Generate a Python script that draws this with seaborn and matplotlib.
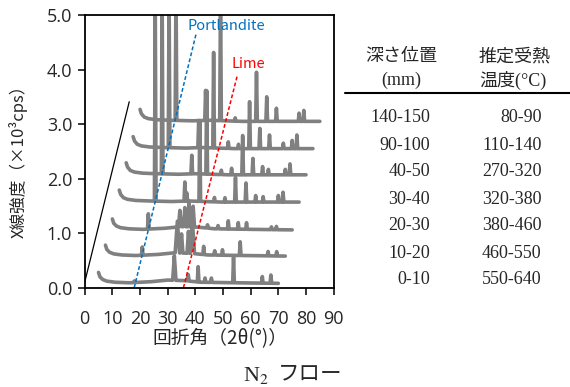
import matplotlib
matplotlib.use("Agg")
import matplotlib.pyplot as plt
import matplotlib.lines as mlines
import seaborn as sns
import numpy as np
import pandas as pd

# ── Data ──────────────────────────────────────────────────────────────────────
# samples listed bottom → top of the stack
DEPTHS = ["0-10", "10-20", "20-30", "30-40", "40-50", "90-100", "140-150"]
TEMPS = ["550-640", "460-550", "380-460", "320-380", "270-320", "110-140", "80-90"]

# waterfall offsets of each pattern
X_SHIFT = [0.0, 2.5, 5.0, 7.5, 10.0, 12.5, 15.0]
Y_SHIFT = [0.08, 0.58, 1.06, 1.57, 2.07, 2.55, 3.05]

# background (relative to baseline), measured in raw 2θ
BG_X = [5, 5.5, 6.5, 8, 11, 16, 24, 30, 36, 42, 55, 70]
BG_HIGH_Y = [0.22, 0.14, 0.08, 0.05, 0.03, 0.02, 0.01, 0.02, 0.01, 0.0, 0.0, 0.0]
BG_LOW_Y = [0.20, 0.12, 0.07, 0.04, 0.02, 0.01, 0.03, 0.06, 0.05, 0.02, 0.01, 0.0]

# peaks: (2θ, height, half width)
PK_0_10 = [(18.0, 0.03, 0.4), (32.4, 0.45, 0.6), (37.4, 0.12, 0.4), (41.0, 0.28, 0.3),
           (43.5, 0.08, 0.3), (45.8, 0.08, 0.3), (53.8, 0.47, 0.3), (64.2, 0.12, 0.3),
           (67.3, 0.15, 0.3)]
PK_10_20 = [(18.3, 0.15, 0.3), (31.0, 0.58, 0.8), (32.5, 0.35, 0.5), (35.0, 0.40, 0.5),
            (36.4, 0.60, 0.8), (40.5, 0.15, 0.3), (44.5, 0.08, 0.4), (47.3, 0.10, 0.3),
            (53.7, 0.25, 0.3), (63.8, 0.08, 0.3), (66.9, 0.08, 0.3)]
PK_20_30 = [(18.0, 0.28, 0.3), (29.4, 0.30, 0.5), (31.2, 0.35, 0.5), (32.7, 0.45, 0.5),
            (34.2, 0.38, 0.5), (39.4, 0.06, 0.4), (43.2, 0.06, 0.4), (46.9, 0.15, 0.3),
            (50.5, 0.12, 0.3), (53.5, 0.12, 0.3), (62.5, 0.05, 0.3), (64.3, 0.06, 0.3)]
PK_30_40 = [(18.0, 3.70, 0.3), (28.7, 0.35, 0.3), (29.4, 0.15, 0.3), (34.1, 1.47, 0.3),
            (39.4, 0.08, 0.3), (43.2, 0.08, 0.3), (47.0, 0.45, 0.3), (50.8, 0.35, 0.3),
            (54.3, 0.12, 0.3), (57.0, 0.10, 0.3), (62.5, 0.12, 0.3), (64.2, 0.18, 0.3)]
PK_40_50 = [(18.0, 3.20, 0.3), (28.7, 0.34, 0.3), (34.1, 1.53, 0.3), (39.4, 0.08, 0.3),
            (43.1, 0.12, 0.3), (47.1, 0.72, 0.3), (50.8, 0.30, 0.3), (54.3, 0.15, 0.3),
            (56.4, 0.10, 0.3), (62.5, 0.10, 0.3), (64.2, 0.20, 0.3)]
PK_90_100 = [(18.0, 2.80, 0.3), (28.7, 0.50, 0.3), (34.1, 1.75, 0.3), (39.4, 0.12, 0.3),
             (43.1, 0.08, 0.3), (47.1, 0.86, 0.3), (50.8, 0.37, 0.3), (54.3, 0.25, 0.3),
             (59.3, 0.10, 0.3), (62.5, 0.15, 0.3), (64.2, 0.25, 0.3)]
PK_140_150 = [(18.0, 2.50, 0.3), (28.7, 0.55, 0.3), (34.1, 2.30, 0.3), (39.4, 0.06, 0.3),
              (47.1, 0.90, 0.3), (50.8, 0.45, 0.3), (54.3, 0.24, 0.3), (62.5, 0.15, 0.3),
              (64.2, 0.20, 0.3)]
PEAKS = [PK_0_10, PK_10_20, PK_20_30, PK_30_40, PK_40_50, PK_90_100, PK_140_150]
BACKGROUNDS = [BG_LOW_Y, BG_LOW_Y, BG_LOW_Y, BG_HIGH_Y, BG_HIGH_Y, BG_HIGH_Y, BG_HIGH_Y]

# guide lines
PORTLANDITE_X = [17.9, 40.2]
PORTLANDITE_Y = [0.0, 4.64]
LIME_X = [35.7, 55.2]
LIME_Y = [0.0, 3.9]
DEPTH_X = [0.0, 16.1]
DEPTH_Y = [0.1, 3.41]

X_TICKS = list(range(0, 91, 10))
Y_TICKS = [0.0, 1.0, 2.0, 3.0, 4.0, 5.0]

GRAY = "#808080"
BLUE = "#0070C0"
RED = "#FF0000"

# ── Build long table of pattern vertices ──────────────────────────────────────
rows = []
for i, (peaks, bg) in enumerate(zip(PEAKS, BACKGROUNDS)):
    xs = set(BG_X)
    for p, h, w in peaks:
        xs.update([p - w, p, p + w])
    xs = np.array(sorted(x for x in xs if BG_X[0] <= x <= BG_X[-1]))
    ys = np.interp(xs, BG_X, bg)
    for p, h, w in peaks:
        ys = ys + h * np.clip(1 - np.abs(xs - p) / w, 0, None)
    for x, y in zip(xs, ys):
        rows.append({"sample": DEPTHS[i], "x": x + X_SHIFT[i], "y": y + Y_SHIFT[i]})
df = pd.DataFrame(rows)

# ── Plot ─────────────────────────────────────────────────────────────────────
sns.set_theme(style="ticks")
plt.rcParams["font.family"] = ["Noto Sans CJK JP", "DejaVu Sans"]
plt.rcParams["mathtext.fontset"] = "stix"
TICKFONT = ["Open Sans", "DejaVu Sans"]

fig = plt.figure(figsize=(5.7, 3.87), dpi=100)
ax = fig.add_axes([0.1486, 0.2566, 0.4368, 0.7046])

sns.lineplot(data=df, x="x", y="y", units="sample", estimator=None, sort=True,
             color=GRAY, linewidth=2.6, legend=False, ax=ax)

ax.plot(DEPTH_X, DEPTH_Y, color="black", linewidth=0.9)
ax.plot(PORTLANDITE_X, PORTLANDITE_Y, color=BLUE, linewidth=1.1, dashes=(2.5, 1.5))
ax.plot(LIME_X, LIME_Y, color=RED, linewidth=1.1, dashes=(2.5, 1.5))
ax.text(37.0, 4.8, "Portlandite", color=BLUE, fontsize=10.5, va="center", ha="left")
ax.text(53.2, 4.1, "Lime", color=RED, fontsize=10.5, va="center", ha="left")

ax.set_xlim(0, 90)
ax.set_ylim(0, 5)
ax.set_xticks(X_TICKS)
ax.set_yticks(Y_TICKS)
ax.set_yticklabels([f"{v:.1f}" for v in Y_TICKS])
ax.tick_params(axis="both", direction="out", length=5, width=1.1, labelsize=13,
               color="black")
ax.tick_params(axis="x", pad=11)
ax.tick_params(axis="y", pad=4)
for lab in ax.get_xticklabels() + ax.get_yticklabels():
    lab.set_family(TICKFONT)
for s in ax.spines.values():
    s.set_linewidth(1.3)
    s.set_color("black")
ax.set_xlabel("回折角（2θ(°)）", fontsize=13.5)
ax.set_ylabel("X線強度（×10³cps）", fontsize=12)
ax.xaxis.set_label_coords(0.545, -0.148)
ax.yaxis.set_label_coords(-0.23, 0.479)

# ── Table on the right ───────────────────────────────────────────────────────
TFONT = ["Liberation Serif", "Noto Sans CJK JP"]
fig.text(0.7047, 0.8535, "深さ位置", fontsize=13, ha="center", va="center", family=TFONT)
fig.text(0.7047, 0.7933, "(mm)", fontsize=13, ha="center", va="center", family=TFONT)
fig.text(0.9035, 0.8535, "推定受熱", fontsize=13, ha="center", va="center", family=TFONT)
fig.text(0.9000, 0.7933, "温度(°C)", fontsize=13, ha="center", va="center", family=TFONT)
fig.add_artist(mlines.Line2D([345 / 570, 1.0], [0.759, 0.759], color="black",
                             linewidth=1.5, transform=fig.transFigure))
for k, (d, t) in enumerate(zip(DEPTHS[::-1], TEMPS[::-1])):
    y = 1 - (118 + 27 * k) / 387
    fig.text(0.7544, y, d, fontsize=13, ha="right", va="center", family=TFONT)
    fig.text(0.9503, y, t, fontsize=13, ha="right", va="center", family=TFONT)

fig.text(0.472, 0.031, "N$_2$", fontsize=16, ha="right", va="center",
         family="Liberation Serif")
fig.text(0.488, 0.034, "フロー", fontsize=15.5, ha="left", va="center",
         family="Noto Sans CJK JP")

fig.savefig("out.png", dpi=100)
